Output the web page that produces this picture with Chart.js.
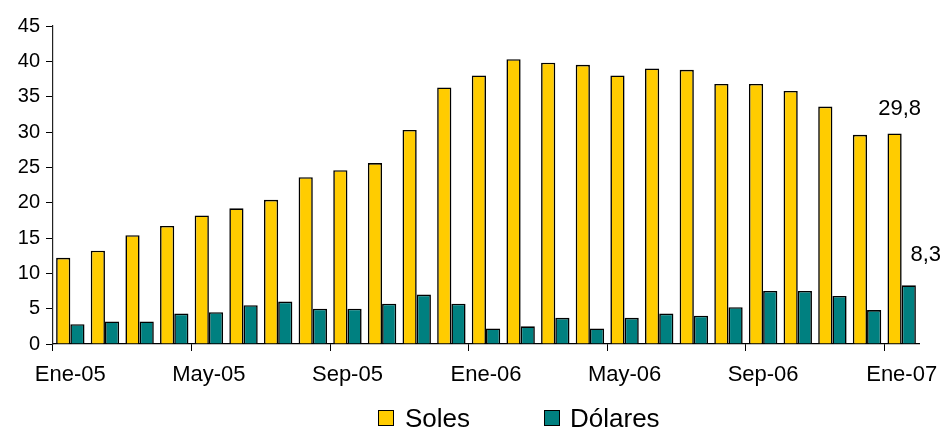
<!DOCTYPE html>
<html>
<head>
<meta charset="utf-8">
<script src="https://cdn.jsdelivr.net/npm/chart.js@4"></script>
<style>
  html, body { margin: 0; padding: 0; background: #fff; }
  #wrap { position: relative; width: 944px; height: 428px; overflow: hidden; }
  #legend { position: absolute; left: 0; top: 0; width: 944px; height: 428px; pointer-events: none;
            font-family: "Liberation Sans", Arial, sans-serif; color: #000; }
  .lbox { position: absolute; width: 14px; height: 14px; border: 1.5px solid #000; }
  .ltxt { position: absolute; font-size: 26px; line-height: 26px; white-space: nowrap; }
</style>
</head>
<body>
<div id="wrap">
  <canvas id="c" width="944" height="428"></canvas>
  <div id="legend"></div>
</div>
<script>
const categories = ["Ene-05","Feb-05","Mar-05","Abr-05","May-05","Jun-05","Jul-05","Ago-05","Sep-05","Oct-05","Nov-05","Dic-05",
                    "Ene-06","Feb-06","Mar-06","Abr-06","May-06","Jun-06","Jul-06","Ago-06","Sep-06","Oct-06","Nov-06","Dic-06","Ene-07"];
const soles   = [12.2, 13.2, 15.4, 16.7, 18.2, 19.2, 20.4, 23.6, 24.6, 25.6, 30.3, 36.3,
                 38.0, 40.3, 39.8, 39.5, 38.0, 39.0, 38.8, 36.8, 36.8, 35.8, 33.6, 29.6, 29.8];
const dolares = [2.8, 3.2, 3.2, 4.3, 4.5, 5.5, 6.0, 5.0, 5.0, 5.7, 7.0, 5.7,
                 2.2, 2.5, 3.7, 2.2, 3.7, 4.3, 4.0, 5.2, 7.5, 7.5, 6.8, 4.8, 8.3];
const seriesNames = ["Soles", "Dólares"];
const seriesColors = ["#FFCC00", "#008080"];
const yTicks = [0, 5, 10, 15, 20, 25, 30, 35, 40, 45];

const FONT = "'Liberation Sans', Arial, sans-serif";
const fmt = v => v.toFixed(1).replace('.', ',');

const lastLabels = {
  id: 'lastLabels',
  afterDatasetsDraw(chart) {
    const ctx = chart.ctx;
    ctx.save();
    ctx.font = "22px " + FONT;
    ctx.fillStyle = "#000";
    ctx.textAlign = "center";
    ctx.textBaseline = "middle";
    const offsets = [{dx: 5, dy: -24}, {dx: 17, dy: -30}];
    chart.data.datasets.forEach((ds, di) => {
      const meta = chart.getDatasetMeta(di);
      const i = ds.data.length - 1;
      const el = meta.data[i];
      ctx.fillText(fmt(ds.data[i]), el.x + offsets[di].dx, el.y + offsets[di].dy);
    });
    ctx.restore();
  }
};

new Chart(document.getElementById('c'), {
  type: 'bar',
  data: {
    labels: categories,
    datasets: [
      { label: seriesNames[0], data: soles, backgroundColor: seriesColors[0], borderColor: '#000', borderWidth: 1.6,
        categoryPercentage: 0.82, barPercentage: 1.0 },
      { label: seriesNames[1], data: dolares, backgroundColor: seriesColors[1], borderColor: '#000', borderWidth: 1.6,
        categoryPercentage: 0.82, barPercentage: 1.0 }
    ]
  },
  options: {
    responsive: false,
    animation: false,
    layout: { padding: { top: 26, right: 25, left: 0, bottom: 0 } },
    plugins: { legend: { display: false }, tooltip: { enabled: false } },
    scales: {
      x: {
        type: 'category',
        offset: true,
        afterFit(scale) { scale.height = 84; scale.paddingRight = 0; scale.paddingLeft = 0; },
        border: { color: '#000', width: 1.2 },
        grid: {
          offset: true,
          drawOnChartArea: false,
          drawTicks: true,
          tickLength: 7,
          color: c => (c.index % 4 === 0 ? '#000' : 'rgba(0,0,0,0)'),
          tickColor: c => (c.index % 4 === 0 ? '#000' : 'rgba(0,0,0,0)'),
          lineWidth: 1
        },
        ticks: {
          autoSkip: false, maxRotation: 0, minRotation: 0,
          padding: 11,
          color: '#000',
          font: { family: FONT, size: 22 },
          callback: function(v, i) { return i % 4 === 0 ? categories[i] : ''; }
        }
      },
      y: {
        min: 0, max: 45,
        afterFit(scale) { scale.width = 53; },
        afterBuildTicks(scale) { scale.ticks = yTicks.map(v => ({ value: v })); },
        border: { color: '#222', width: 1.2 },
        grid: { drawOnChartArea: false, tickLength: 7, color: '#000', lineWidth: 1 },
        ticks: {
          padding: 6,
          color: '#000',
          font: { family: FONT, size: 20 },
          callback: v => String(v)
        }
      }
    }
  },
  plugins: [lastLabels]
});

// HTML legend
const legend = document.getElementById('legend');
const legendPos = [{box: 378, text: 405}, {box: 544, text: 570}];
seriesNames.forEach((name, i) => {
  const b = document.createElement('div');
  b.className = 'lbox';
  b.style.left = legendPos[i].box + 'px';
  b.style.top = '410px';
  b.style.background = seriesColors[i];
  legend.appendChild(b);
  const t = document.createElement('div');
  t.className = 'ltxt';
  t.style.left = legendPos[i].text + 'px';
  t.style.top = '405px';
  t.textContent = name;
  legend.appendChild(t);
});
</script>
</body>
</html>
